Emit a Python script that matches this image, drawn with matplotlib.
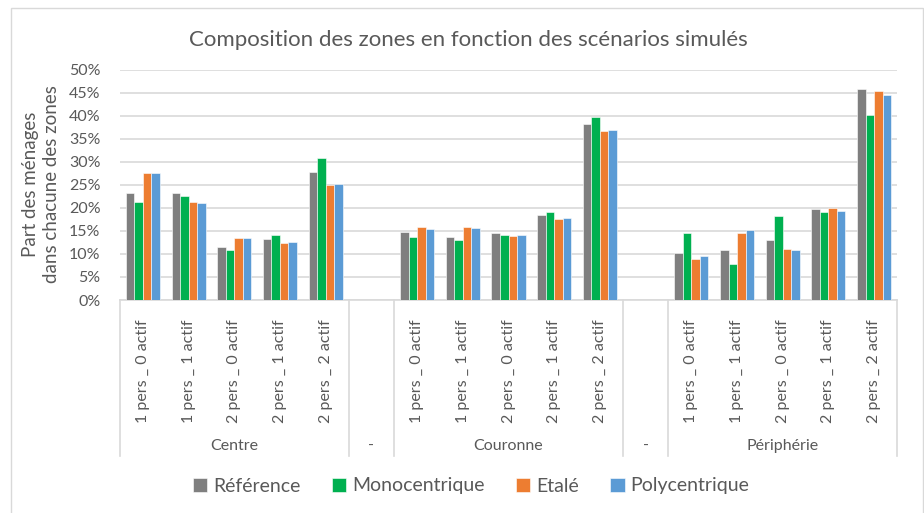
import matplotlib
matplotlib.use("Agg")
import matplotlib.pyplot as plt
import matplotlib.transforms as mtransforms
from matplotlib.patches import Rectangle
import numpy as np

plt.rcParams['font.family'] = ['Lato', 'DejaVu Sans']

zones = ["Centre", "Couronne", "Périphérie"]
categories = ["1 pers _ 0 actif", "1 pers _ 1 actif", "2 pers _ 0 actif",
              "2 pers _ 1 actif", "2 pers _ 2 actif"]
series_names = ["Référence", "Monocentrique", "Etalé", "Polycentrique"]
colors = ["#7F7F7F", "#00B050", "#ED7D31", "#5B9BD5"]

# values in % per zone: [cat1..cat5]
reference = [23.3, 23.3, 11.6, 13.3, 27.8,
             14.8, 13.7, 14.5, 18.5, 38.3,
             10.3, 10.9, 13.0, 19.8, 45.8]
monocentrique = [21.3, 22.6, 10.9, 14.2, 30.9,
                 13.7, 13.0, 14.2, 19.0, 39.8,
                 14.5, 7.9, 18.3, 19.2, 40.1]
etale = [27.5, 21.3, 13.5, 12.4, 25.0,
         15.8, 15.8, 14.0, 17.5, 36.7,
         9.0, 14.5, 11.1, 20.0, 45.3]
polycentrique = [27.5, 21.1, 13.5, 12.6, 25.2,
                 15.4, 15.6, 14.2, 17.9, 36.9,
                 9.6, 15.3, 10.9, 19.4, 44.5]
series = [reference, monocentrique, etale, polycentrique]

text_col = "#595959"
grid_col = "#D9D9D9"

W, H = 924, 513
fig = plt.figure(figsize=(W / 100, H / 100), dpi=100)
ax = fig.add_axes([120 / W, 1 - 300 / H, (897 - 120) / W, (300 - 69.7) / H])

# positions: 5 cats, gap, 5 cats, gap, 5 cats
positions = []
for z in range(3):
    for c in range(5):
        positions.append(z * 6 + c)
positions = np.array(positions, dtype=float)

bw = 0.186
for i, (vals, col) in enumerate(zip(series, colors)):
    offs = (i - 1.5) * bw
    ax.bar(positions + offs, np.array(vals) / 100.0, width=bw, color=col,
           edgecolor="white", linewidth=0.4, zorder=3, label=series_names[i])

ax.set_xlim(-0.5, 16.5)
ax.set_ylim(0, 0.5)
yt = np.arange(0, 0.51, 0.05)
ax.set_yticks(yt)
ax.set_yticklabels([f"{int(round(v * 100))}%" for v in yt], color=text_col, fontsize=11.5)
ax.yaxis.grid(True, color=grid_col, linewidth=1.2, zorder=0)
ax.tick_params(axis="y", length=0, pad=14)
for s in ["top", "right", "left"]:
    ax.spines[s].set_visible(False)
ax.spines["bottom"].set_color(grid_col)
ax.spines["bottom"].set_linewidth(1.2)

labels = categories * 3
ax.set_xticks(positions)
ax.set_xticklabels(labels, rotation=90, color=text_col, fontsize=11.5)
ax.tick_params(axis="x", length=0, pad=14)

trans = mtransforms.blended_transform_factory(ax.transData, ax.transAxes)
for xb in [-0.5, 4.5, 5.5, 10.5, 11.5, 16.5]:
    ax.plot([xb, xb], [0, -0.677], transform=trans, color=grid_col,
            linewidth=1.2, clip_on=False)
for z, name in enumerate(zones):
    ax.text(z * 6 + 2, -0.635, name, transform=trans, ha="center", va="center",
            color=text_col, fontsize=11.5)
for g in [5, 11]:
    ax.text(g, -0.635, "-", transform=trans, ha="center", va="center",
            color=text_col, fontsize=11.5)

fig.text(41 / W, 1 - 184 / H, "Part des ménages\ndans chacune des zones",
         rotation=90, ha="center", va="center", color=text_col,
         fontsize=13.5, linespacing=1.35, multialignment="center")

fig.text(468 / W, 1 - 40 / H, "Composition des zones en fonction des scénarios simulés",
         ha="center", va="center", color=text_col, fontsize=16)

leg = fig.legend(loc="center", bbox_to_anchor=(471 / W, 1 - 486 / H), ncol=4,
                 frameon=False, fontsize=14, handlelength=0.75, handleheight=0.75,
                 handletextpad=0.3, columnspacing=1.6)
for t in leg.get_texts():
    t.set_color(text_col)

fig.patches.append(Rectangle((11 / W, -0.01), (923 - 11) / W, 1 - 8 / H + 0.01,
                             transform=fig.transFigure, fill=False,
                             edgecolor=grid_col, linewidth=1.0))

fig.savefig("out.png", dpi=100)
